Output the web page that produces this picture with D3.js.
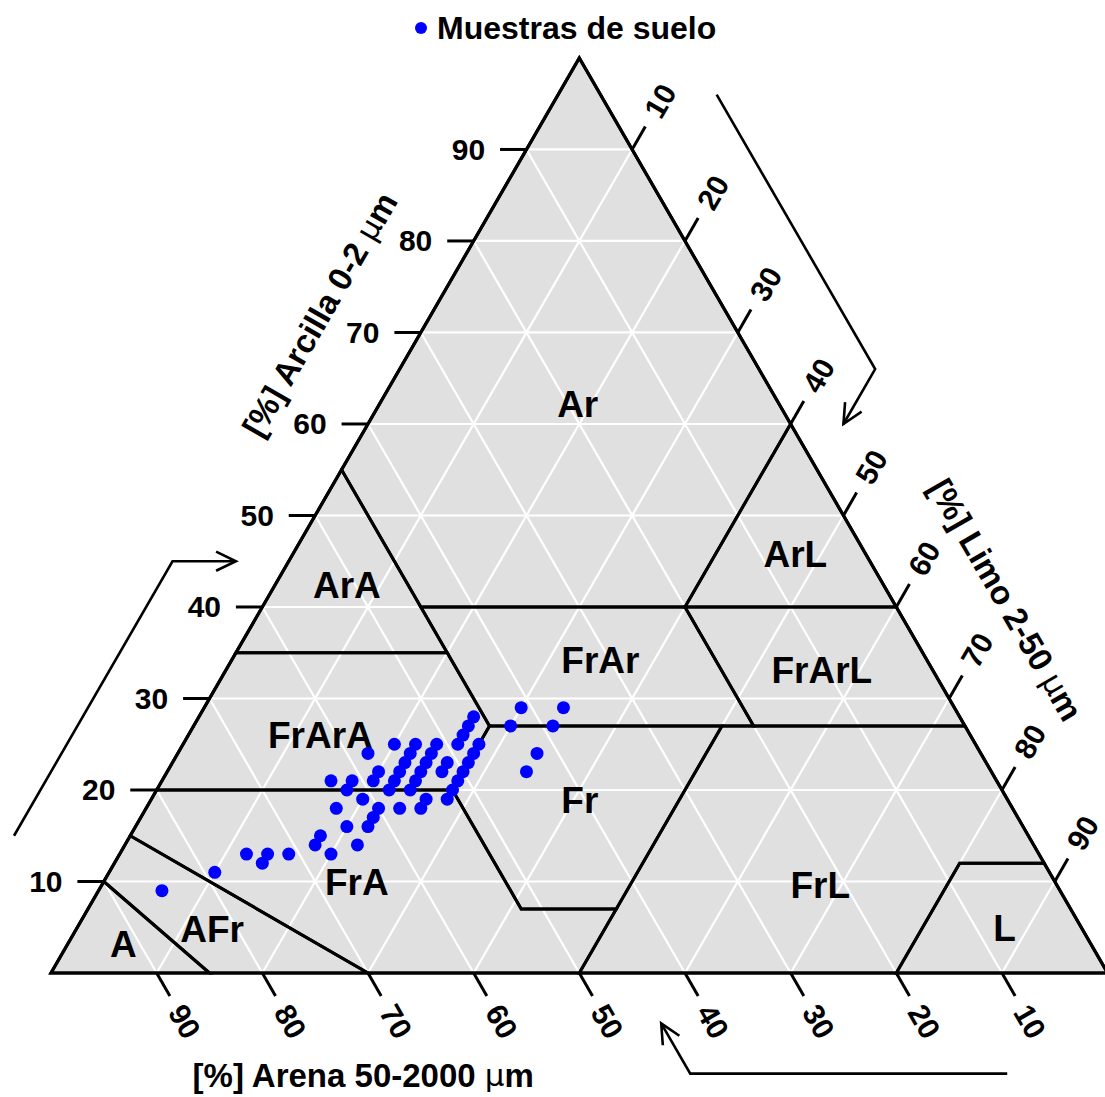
<!DOCTYPE html>
<html>
<head>
<meta charset="utf-8">
<script src="https://cdn.jsdelivr.net/npm/d3@7"></script>
<style>
  body { margin: 0; background: #ffffff; }
  text { font-family: "Liberation Sans", Arial, sans-serif; font-weight: bold; fill: #000; }
</style>
</head>
<body>
<svg id="chart" width="1105" height="1097"></svg>
<script>
// ---- Soil samples (%) ----
const arcilla = [9, 11, 13, 12, 13, 13, 14, 15, 13, 16, 14, 18, 20, 21, 21, 19, 21, 22, 16, 17, 18, 24, 25,
                 20, 21, 22, 23, 24, 25, 18, 20, 21, 22, 23, 24, 25, 18, 19, 22, 23, 25, 26, 27, 28,
                 19, 20, 21, 22, 23, 24, 25, 27, 29, 29, 27, 24, 22];
const limo    = [6, 10, 12, 14, 14, 16, 18, 18, 20, 20, 22, 18, 18, 18, 16, 20, 20, 20, 22, 22, 22, 18, 20,
                 22, 22, 22, 22, 22, 22, 24, 24, 24, 24, 24, 24, 24, 26, 26, 26, 26, 26, 26, 26, 26,
                 28, 28, 28, 28, 28, 28, 28, 30, 30, 34, 34, 34, 34];
const arena   = [85, 79, 75, 74, 73, 71, 68, 67, 67, 64, 64, 64, 62, 61, 63, 61, 59, 58, 62, 61, 60, 58, 55,
                 58, 57, 56, 55, 54, 53, 58, 56, 55, 54, 53, 52, 51, 56, 55, 52, 51, 49, 48, 47, 46,
                 53, 52, 51, 50, 49, 48, 47, 43, 41, 37, 39, 42, 44];

// ---- Axis ticks ----
const ticks = [10, 20, 30, 40, 50, 60, 70, 80, 90];

// ---- USDA texture classes, vertices as [arena, limo, arcilla] ----
const classNames = ["A", "AFr", "FrA", "Fr", "FrL", "L", "FrArA", "FrAr", "FrArL", "ArA", "ArL", "Ar"];
const classVertices = [
  [[100, 0, 0], [85, 15, 0], [90, 0, 10]],
  [[90, 0, 10], [85, 15, 0], [70, 30, 0], [85, 0, 15]],
  [[85, 0, 15], [70, 30, 0], [50, 50, 0], [43, 50, 7], [52, 41, 7], [52, 28, 20], [80, 0, 20]],
  [[43, 50, 7], [52, 41, 7], [52, 28, 20], [45, 28, 27], [23, 50, 27]],
  [[50, 50, 0], [20, 80, 0], [8, 80, 12], [0, 88, 12], [0, 73, 27], [23, 50, 27], [43, 50, 7]],
  [[20, 80, 0], [0, 100, 0], [0, 88, 12], [8, 80, 12]],
  [[80, 0, 20], [52, 28, 20], [45, 28, 27], [45, 20, 35], [65, 0, 35]],
  [[45, 28, 27], [20, 53, 27], [20, 40, 40], [45, 15, 40], [45, 20, 35]],
  [[20, 53, 27], [0, 73, 27], [0, 60, 40], [20, 40, 40]],
  [[65, 0, 35], [45, 20, 35], [45, 0, 55]],
  [[20, 40, 40], [0, 60, 40], [0, 40, 60]],
  [[45, 15, 40], [20, 40, 40], [0, 40, 60], [0, 0, 100], [45, 0, 55]]
];
// label anchor of each class, as [limo, arcilla]
const classLabelAt = [[5.3, 3.1], [12.9, 4.7], [24, 9.9], [40.6, 18.9], [68, 9.6], [87.8, 4.9],
                      [12.5, 26], [34.9, 34.2], [56.4, 33.1], [6.8, 42.4], [47.6, 45.7], [18.8, 62.1]];

// ---- Layout ----
const svg = d3.select("#chart");
const side = 1056.6;
const left = 51, base = 973;
const height = side * Math.sqrt(3) / 2;

// horizontal position from (limo + arcilla/2), vertical from arcilla
const xs = d3.scaleLinear().domain([0, 100]).range([left, left + side]);
const ys = d3.scaleLinear().domain([0, 100]).range([base, base - height]);
const proj = (sand, silt, clay) => [xs(silt + clay / 2), ys(clay)];

const FILL = "#e0e0e0";
const line = d3.line();

// triangle background
const corners = [proj(100, 0, 0), proj(0, 100, 0), proj(0, 0, 100)];
svg.append("path")
  .attr("d", line(corners) + "Z")
  .attr("fill", FILL);

// white 10 % grid
const grid = svg.append("g").attr("stroke", "#ffffff").attr("stroke-width", 2.2).attr("fill", "none");
ticks.forEach(v => {
  grid.append("path").attr("d", line([proj(100 - v, 0, v), proj(0, 100 - v, v)]));
  grid.append("path").attr("d", line([proj(100 - v, v, 0), proj(0, v, 100 - v)]));
  grid.append("path").attr("d", line([proj(v, 100 - v, 0), proj(v, 0, 100 - v)]));
});

// class boundaries
svg.append("g").selectAll("path")
  .data(classVertices)
  .join("path")
  .attr("d", d => line(d.map(p => proj(p[0], p[1], p[2]))) + "Z")
  .attr("fill", "none")
  .attr("stroke", "#000")
  .attr("stroke-width", 3)
  .attr("stroke-linejoin", "miter");

// triangle outline
svg.append("path")
  .attr("d", line(corners) + "Z")
  .attr("fill", "none")
  .attr("stroke", "#000")
  .attr("stroke-width", 3.2)
  .attr("stroke-linejoin", "miter");

// class labels
svg.append("g").selectAll("text")
  .data(classNames)
  .join("text")
  .attr("x", (d, i) => proj(100 - classLabelAt[i][0] - classLabelAt[i][1], classLabelAt[i][0], classLabelAt[i][1])[0])
  .attr("y", (d, i) => proj(100 - classLabelAt[i][0] - classLabelAt[i][1], classLabelAt[i][0], classLabelAt[i][1])[1])
  .attr("text-anchor", "middle")
  .attr("dominant-baseline", "central")
  .attr("font-size", 37)
  .text(d => d);

// ---- Axes: ticks and labels ----
const TL = 2.5, LO = 5.3;
const TICK_FONT = 30;
const axes = svg.append("g");
ticks.forEach(v => {
  // arcilla (left side)
  let a = proj(100 - v, 0, v), b = proj(100 - v + TL, -TL, v), c = proj(100 - v + LO, -LO, v);
  axes.append("path").attr("d", line([a, b])).attr("stroke", "#000").attr("stroke-width", 3);
  axes.append("text").attr("x", c[0] - 2).attr("y", c[1]).attr("text-anchor", "middle")
    .attr("dominant-baseline", "central").attr("font-size", TICK_FONT).text(v);
  // arena (bottom side)
  a = proj(v, 100 - v, 0); b = proj(v, 100 - v + TL, -TL); c = proj(v, 100 - v + LO, -LO);
  axes.append("path").attr("d", line([a, b])).attr("stroke", "#000").attr("stroke-width", 3);
  axes.append("text").attr("transform", `translate(${c[0]},${c[1]}) rotate(60)`).attr("text-anchor", "middle")
    .attr("dominant-baseline", "central").attr("font-size", TICK_FONT).text(v);
  // limo (right side)
  a = proj(0, v, 100 - v); b = proj(-TL, v, 100 - v + TL); c = proj(-LO, v, 100 - v + LO);
  axes.append("path").attr("d", line([a, b])).attr("stroke", "#000").attr("stroke-width", 3);
  axes.append("text").attr("transform", `translate(${c[0]},${c[1]}) rotate(-60)`).attr("text-anchor", "middle")
    .attr("dominant-baseline", "central").attr("font-size", TICK_FONT).text(v);
});

// ---- Axis titles ----
function title(pos, angle, label) {
  const t = svg.append("text")
    .attr("transform", `translate(${pos[0]},${pos[1]}) rotate(${angle})`)
    .attr("text-anchor", "middle")
    .attr("dominant-baseline", "central")
    .attr("font-size", 33);
  t.append("tspan").text(label + " ");
  t.append("tspan").attr("font-weight", "normal").attr("font-family", "DejaVu Sans").attr("font-size", 31).text("\u03bc");
  t.append("tspan").text("m");
}
title(proj(100 - 72 + 10.6, -10.6, 72), -60, "[%] Arcilla 0-2");
title(proj(-10.8, 70, 40.8), 60, "[%] Limo 2-50");
title(proj(76, 35.1, -11.1), 0, "[%] Arena 50-2000");

// ---- Direction arrows ----
function arrow(pts) {
  const g = svg.append("g").attr("stroke", "#000").attr("stroke-width", 2.6).attr("fill", "none");
  g.append("path").attr("d", line(pts));
  const tip = pts[pts.length - 1], prev = pts[pts.length - 2];
  const ang = Math.atan2(prev[1] - tip[1], prev[0] - tip[0]);
  const L = 22, spread = Math.PI / 7;
  const h1 = [tip[0] + L * Math.cos(ang + spread), tip[1] + L * Math.sin(ang + spread)];
  const h2 = [tip[0] + L * Math.cos(ang - spread), tip[1] + L * Math.sin(ang - spread)];
  g.append("path").attr("d", line([h1, tip, h2]));
}
arrow([proj(96, -11, 15), proj(66, -11, 45), proj(60, -5, 45)]);
arrow([proj(-11, 15, 96), proj(-11, 45, 66), proj(-5, 45, 60)]);
arrow([proj(15, 96, -11), proj(45, 66, -11), proj(45, 60.5, -5.5)]);

// ---- Samples ----
const BLUE = "#0000ff";
svg.append("g").selectAll("circle")
  .data(arena)
  .join("circle")
  .attr("cx", (d, i) => proj(d, limo[i], arcilla[i])[0])
  .attr("cy", (d, i) => proj(d, limo[i], arcilla[i])[1])
  .attr("r", 6.5)
  .attr("fill", BLUE);

// ---- Legend ----
const legend = svg.append("g").attr("transform", "translate(421,28)");
legend.append("circle").attr("r", 6).attr("fill", BLUE);
legend.append("text").attr("x", 16).attr("y", 0).attr("dominant-baseline", "central")
  .attr("font-size", 32).text("Muestras de suelo");
</script>
</body>
</html>
